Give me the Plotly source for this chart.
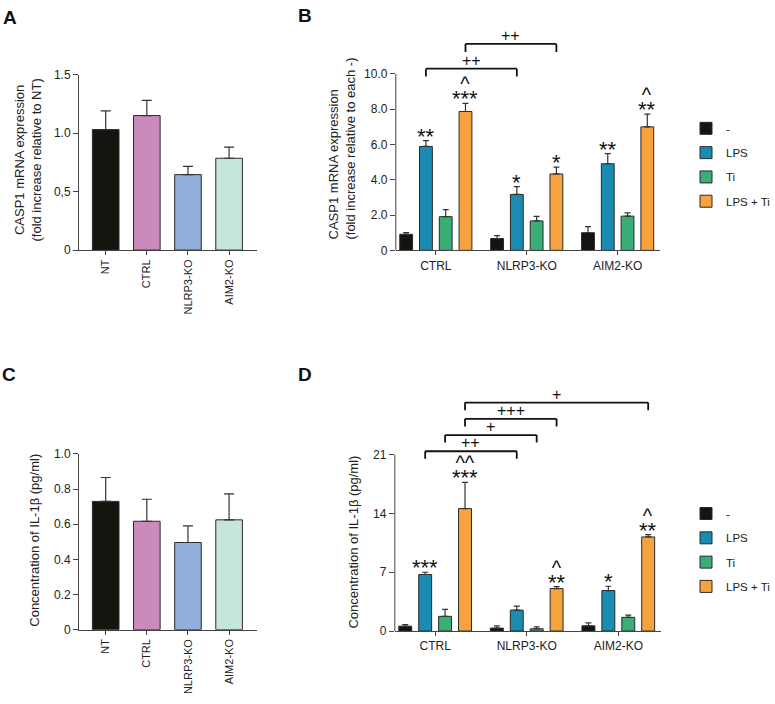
import plotly.graph_objects as go

FONT = "Arial, 'Liberation Sans', sans-serif"
W, H = 775, 704

# ---------------- data ----------------
samples = ["NT", "CTRL", "NLRP3-KO", "AIM2-KO"]
sample_colors = ["#15140f", "#c98bbb", "#92aed9", "#c7e6da"]

casp1_A_mean = [1.03, 1.15, 0.645, 0.785]
casp1_A_sem = [0.16, 0.13, 0.07, 0.095]
A_ticks = [0, 0.5, 1.0, 1.5]
A_ticktext = ["0", "0,5", "1.0", "1.5"]

il1b_C_mean = [0.73, 0.617, 0.496, 0.625]
il1b_C_sem = [0.136, 0.125, 0.095, 0.148]
C_ticks = [0, 0.2, 0.4, 0.6, 0.8, 1.0]
C_ticktext = ["0", "0.2", "0.4", "0.6", "0.8", "1.0"]

groups = ["CTRL", "NLRP3-KO", "AIM2-KO"]
treatments = ["-", "LPS", "Ti", "LPS + Ti"]
treat_colors = ["#16140f", "#1a8cb2", "#3bae78", "#f6a33e"]

casp1_B_none = [0.91, 0.67, 1.00]
casp1_B_lps = [5.89, 3.17, 4.91]
casp1_B_ti = [1.91, 1.67, 1.94]
casp1_B_lpsti = [7.87, 4.33, 7.00]
casp1_B_none_sem = [0.09, 0.16, 0.35]
casp1_B_lps_sem = [0.33, 0.44, 0.57]
casp1_B_ti_sem = [0.40, 0.26, 0.19]
casp1_B_lpsti_sem = [0.46, 0.39, 0.72]
B_ticks = [0, 2, 4, 6, 8, 10]
B_ticktext = ["0", "2.0", "4.0", "6.0", "8.0", "10.0"]

il1b_D_none = [0.58, 0.35, 0.62]
il1b_D_lps = [6.73, 2.49, 4.82]
il1b_D_ti = [1.75, 0.27, 1.63]
il1b_D_lpsti = [14.58, 5.06, 11.20]
il1b_D_none_sem = [0.20, 0.27, 0.35]
il1b_D_lps_sem = [0.27, 0.47, 0.51]
il1b_D_ti_sem = [0.82, 0.23, 0.27]
il1b_D_lpsti_sem = [3.12, 0.23, 0.27]
D_ticks = [0, 7, 14, 21]

sig_B = [("CTRL", "LPS", "**", ""), ("CTRL", "LPS + Ti", "***", "^"),
         ("NLRP3-KO", "LPS", "*", ""), ("NLRP3-KO", "LPS + Ti", "*", ""),
         ("AIM2-KO", "LPS", "**", ""), ("AIM2-KO", "LPS + Ti", "**", "^")]
sig_D = [("CTRL", "LPS", "***", ""), ("CTRL", "LPS + Ti", "***", "^^"),
         ("NLRP3-KO", "LPS + Ti", "**", "^"),
         ("AIM2-KO", "LPS", "*", ""), ("AIM2-KO", "LPS + Ti", "**", "^")]
brk_B = [(("CTRL", "LPS"), ("NLRP3-KO", "LPS"), "++"),
         (("CTRL", "LPS + Ti"), ("NLRP3-KO", "LPS + Ti"), "++")]
brk_D = [(("CTRL", "LPS"), ("NLRP3-KO", "LPS"), "++"),
         (("CTRL", "Ti"), ("NLRP3-KO", "Ti"), "+"),
         (("CTRL", "LPS + Ti"), ("NLRP3-KO", "LPS + Ti"), "+++"),
         (("CTRL", "LPS + Ti"), ("AIM2-KO", "LPS + Ti"), "+")]

# ---------------- geometry helpers ----------------
def xdom(l, r):
    return [l / W, r / W]

def ydom(top, bottom):
    return [1 - bottom / H, 1 - top / H]

BARGAP = 0.13
SLOT = (1 - BARGAP) / 4

def bar_x(g, t):
    return groups.index(g) + (treatments.index(t) - 1.5) * SLOT

fig = go.Figure()

# single-series panels
for vals, sem, ax in [(casp1_A_mean, casp1_A_sem, ("x", "y")),
                      (il1b_C_mean, il1b_C_sem, ("x3", "y3"))]:
    fig.add_trace(go.Bar(
        x=samples, y=vals, width=0.647, xaxis=ax[0], yaxis=ax[1], showlegend=False,
        marker=dict(color=sample_colors, line=dict(color="#2a2a2a", width=1)),
        error_y=dict(type="data", array=sem, arrayminus=[0] * len(sem), symmetric=False,
                     color="#333333", thickness=1.2, width=5)))

B_series = [casp1_B_none, casp1_B_lps, casp1_B_ti, casp1_B_lpsti]
B_sems = [casp1_B_none_sem, casp1_B_lps_sem, casp1_B_ti_sem, casp1_B_lpsti_sem]
D_series = [il1b_D_none, il1b_D_lps, il1b_D_ti, il1b_D_lpsti]
D_sems = [il1b_D_none_sem, il1b_D_lps_sem, il1b_D_ti_sem, il1b_D_lpsti_sem]

for series, sems, ax, leg, pre in [(B_series, B_sems, ("x2", "y2"), "legend", "b"),
                                   (D_series, D_sems, ("x4", "y4"), "legend2", "d")]:
    for k, t in enumerate(treatments):
        fig.add_trace(go.Bar(
            x=groups, y=series[k], name=t, width=0.141, xaxis=ax[0], yaxis=ax[1],
            legend=leg, legendgroup=pre + str(k),
            marker=dict(color=treat_colors[k], line=dict(color="#2a2a2a", width=1)),
            error_y=dict(type="data", array=sems[k], arrayminus=[0] * 3, symmetric=False,
                         color="#333333", thickness=1.2, width=3)))

annotations = []
shapes = []

def add_sig(sig, series, sems, ax, star_d):
    for g, t, stars, carets in sig:
        k = treatments.index(t)
        gi = groups.index(g)
        top = series[k][gi] + sems[k][gi]
        x = bar_x(g, t)
        if carets:
            text = ("<span style='font-size:20px'>%s</span><br>"
                    "<span style='font-size:22px'>%s</span>" % (carets, stars))
        else:
            text = "<span style='font-size:22px'>%s</span>" % stars
        annotations.append(dict(x=x, y=top, xref=ax[0], yref=ax[1], text=text,
                                showarrow=False, yanchor="bottom", yshift=star_d,
                                borderpad=0,
                                font=dict(size=11.5, color="#111", family=FONT)))

add_sig(sig_B, B_series, B_sems, ("x2", "y2"), -9)
add_sig(sig_D, D_series, D_sems, ("x4", "y4"), -9)

def add_brackets(brk, ax, base, step, drop):
    for i, (a, b, lab) in enumerate(brk):
        y = base + i * step
        x0, x1 = bar_x(*a), bar_x(*b)
        ln = dict(color="#111", width=1.8)
        for (xa, ya, xb, yb) in [(x0, y - drop, x0, y), (x0, y, x1, y), (x1, y, x1, y - drop)]:
            shapes.append(dict(type="line", xref=ax[0], yref=ax[1], x0=xa, y0=ya,
                               x1=xb, y1=yb, line=ln))
        annotations.append(dict(x=(x0 + x1) / 2, y=y, xref=ax[0], yref=ax[1], text=lab,
                                showarrow=False, yanchor="middle", yshift=8.5,
                                font=dict(size=16, color="#111", family=FONT)))

add_brackets(brk_B, ("x2", "y2"), 10.3, 1.4, 0.45)
add_brackets(brk_D, ("x4", "y4"), 21.4, 1.93, 0.9)

# y-axis lines for B and D (only up to top tick)
for ax, top in [("2", B_ticks[-1]), ("4", D_ticks[-1])]:
    shapes.append(dict(type="line", xref="x%s domain" % ax, yref="y" + ax,
                       x0=0, x1=0, y0=0, y1=top, line=dict(color="#444", width=1)))

# axis titles
def vtitle(text, xc, yc, size=13):
    annotations.append(dict(x=xc / W, y=1 - yc / H, xref="paper", yref="paper",
                            text=text, textangle=-90, showarrow=False,
                            xanchor="center", yanchor="middle",
                            font=dict(size=size, color="#222", family=FONT)))

vtitle("CASP1 mRNA expression<br>(fold increase relative to NT)", 28, 156)
vtitle("CASP1 mRNA expression", 338, 161)
vtitle("(fold increase relative to each -)", 355, 144)
vtitle("Concentration of IL-1β (pg/ml)", 35, 544)
vtitle("Concentration of IL-1β (pg/ml)", 358, 546)

for lab, xc, yc in [("A", 10, 11), ("B", 309, 9), ("C", 9, 375), ("D", 309, 375)]:
    annotations.append(dict(x=xc / W, y=1 - yc / H, xref="paper", yref="paper", text="<b>%s</b>" % lab,
                            showarrow=False, xanchor="center", yanchor="middle",
                            font=dict(size=19, color="#111", family=FONT)))

common = dict(showgrid=False, zeroline=False, linecolor="#444", linewidth=1,
              ticks="outside", ticklen=5, tickcolor="#444", tickwidth=1,
              tickfont=dict(size=12, color="#222", family=FONT))

B_top_val = 12.8
D_top_val = 29.5
B_bottom_px, B_ppu = 248.3, 18.0
D_bottom_px, D_ppu = 636.7, 180.0 / 21

fig.update_layout(
    width=W, height=H, margin=dict(l=0, r=0, t=0, b=0),
    paper_bgcolor="white", plot_bgcolor="white",
    barmode="group", bargap=BARGAP, bargroupgap=0,
    font=dict(family=FONT, color="#222"),
    xaxis=dict(common, domain=xdom(80, 260), anchor="y", type="category",
               range=[-0.65, 3.67], showline=True, tickangle=-90, ticklen=4,
               tickfont=dict(size=11, color="#222", family=FONT)),
    yaxis=dict(common, domain=ydom(69, 248), anchor="x", range=[0, 1.5],
               tickvals=A_ticks, ticktext=A_ticktext, showline=True),
    xaxis2=dict(common, domain=xdom(401, 669), anchor="y2", type="category",
                range=[-0.44, 2.47], showline=True, ticklen=4),
    yaxis2=dict(common, domain=ydom(B_bottom_px - B_top_val * B_ppu, B_bottom_px), anchor="x2",
                range=[0, B_top_val], tickvals=B_ticks, ticktext=B_ticktext, showline=False),
    xaxis3=dict(common, domain=xdom(80, 260), anchor="y3", type="category",
                range=[-0.65, 3.67], showline=True, tickangle=-90, ticklen=4,
                tickfont=dict(size=11, color="#222", family=FONT)),
    yaxis3=dict(common, domain=ydom(456, 635.3), anchor="x3", range=[0, 1.0],
                tickvals=C_ticks, ticktext=C_ticktext, showline=True),
    xaxis4=dict(common, domain=xdom(400, 670), anchor="y4", type="category",
                range=[-0.44, 2.47], showline=True, ticklen=4),
    yaxis4=dict(common, domain=ydom(D_bottom_px - D_top_val * D_ppu, D_bottom_px), anchor="x4",
                range=[0, D_top_val], tickvals=D_ticks, showline=False),
    legend=dict(x=695 / W, y=1 - 109 / H, xanchor="left", yanchor="top",
                font=dict(size=11.5, color="#222", family=FONT), tracegroupgap=5.3,
                bgcolor="rgba(0,0,0,0)"),
    legend2=dict(x=695 / W, y=1 - 502 / H, xanchor="left", yanchor="top",
                 font=dict(size=11.5, color="#222", family=FONT), tracegroupgap=5.3,
                 bgcolor="rgba(0,0,0,0)"),
    annotations=annotations, shapes=shapes,
)

# page body has a default 8px margin; remove it so the figure fills the window
fig.write_html("out.html", config={"displayModeBar": False},
               post_script="document.body.style.margin='0';")
